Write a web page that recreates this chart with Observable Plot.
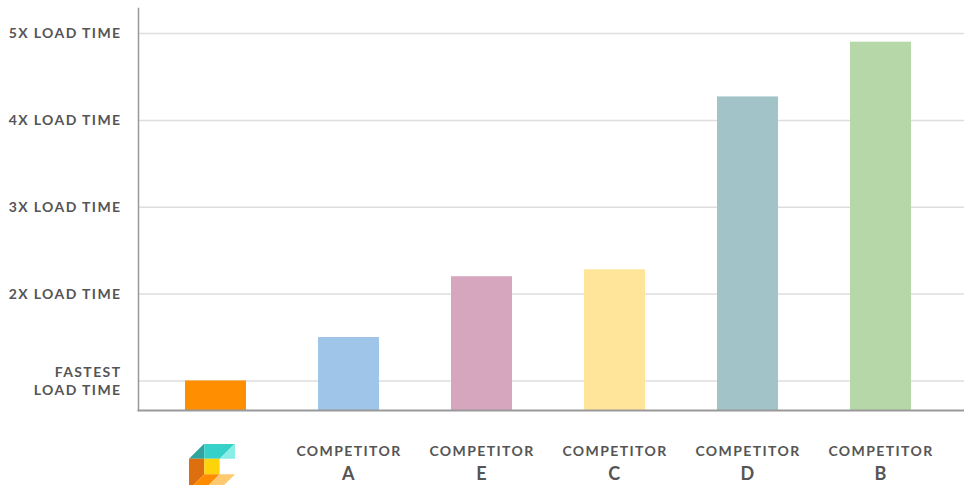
<!DOCTYPE html>
<html>
<head>
<meta charset="utf-8">
<script src="https://cdn.jsdelivr.net/npm/d3@7"></script>
<script src="https://cdn.jsdelivr.net/npm/@observablehq/plot@0.6"></script>
<style>
  html, body { margin: 0; padding: 0; background: #fff; }
</style>
</head>
<body>
<div id="chart"></div>
<script>
const categories = ["Ours", "A", "E", "C", "D", "B"];
const loadTimes = [1.0, 1.5, 2.2, 2.28, 4.27, 4.9];
const barColors = ["#ff8f00", "#9fc5e8", "#d5a6bd", "#ffe599", "#a2c4c9", "#b6d7a8"];
const tickValues = [1, 2, 3, 4, 5];
const tickLabels = ["FASTEST\nLOAD TIME", "2X LOAD TIME", "3X LOAD TIME", "4X LOAD TIME", "5X LOAD TIME"];
const competitorWord = "COMPETITOR";

const yMin = 0.66, yMax = 5.288;
const data = categories.map((c, i) => ({name: c, value: loadTimes[i]}));
const labelOf = new Map(tickValues.map((v, i) => [v, tickLabels[i]]));

const logoSvg = `<svg xmlns="http://www.w3.org/2000/svg" viewBox="0 0 3 3" width="46" height="46">
<polygon points="0,1 1,0 1,1" fill="#2fa39d"/>
<polygon points="1,0 3,0 2,1 1,1" fill="#36d1c9"/>
<polygon points="2,1 3,0 3,1" fill="#8aeee6"/>
<polygon points="0,1 1,1 1,2 0,3" fill="#de6f0e"/>
<polygon points="1,1 2,1 2,2 1,2" fill="#ffd30a"/>
<polygon points="1,2 2,2 1,3 0,3" fill="#ff8c00"/>
<polygon points="2,2 3,2 2,3 1,3" fill="#ffc96f"/>
</svg>`;
const logoSrc = "data:image/svg+xml;charset=utf-8," + encodeURIComponent(logoSvg);

const chart = Plot.plot({
  width: 964,
  height: 485,
  marginLeft: 138,
  marginRight: 0,
  marginTop: 8,
  marginBottom: 75,
  style: {fontFamily: "Lato, sans-serif", letterSpacing: "1.4px", background: "#fff"},
  x: {domain: categories, range: [138, 958], paddingInner: 0.541, paddingOuter: 0.353, axis: null},
  y: {domain: [yMin, yMax], axis: null},
  color: {domain: categories, range: barColors},
  marks: [
    Plot.ruleY(tickValues, {stroke: "#dedede", strokeWidth: 1.5}),
    Plot.barY(data, {x: "name", y1: yMin, y2: "value", fill: "name"}),
    Plot.frame({anchor: "left", stroke: "#999", strokeWidth: 1.5}),
    Plot.frame({anchor: "bottom", stroke: "#999", strokeWidth: 2}),
    Plot.text(tickValues, {
      y: d => d, text: d => labelOf.get(d), frameAnchor: "left", dx: -17, dy: -1,
      textAnchor: "end", lineHeight: 1.3, fontSize: 14, fontWeight: "bold", fill: "#555"
    }),
    Plot.text(categories.slice(1), {
      x: d => d, text: () => competitorWord, frameAnchor: "bottom", dy: 45.5,
      fontSize: 14, fontWeight: "bold", fill: "#555"
    }),
    Plot.text(categories.slice(1), {
      x: d => d, text: d => d, frameAnchor: "bottom", dy: 69,
      fontSize: 18, fontWeight: "bold", fill: "#555"
    }),
    Plot.image([categories[0]], {
      x: d => d, src: () => logoSrc, frameAnchor: "bottom", dy: 56, dx: -4, width: 46, height: 46
    })
  ]
});
document.getElementById("chart").appendChild(chart);
</script>
</body>
</html>
